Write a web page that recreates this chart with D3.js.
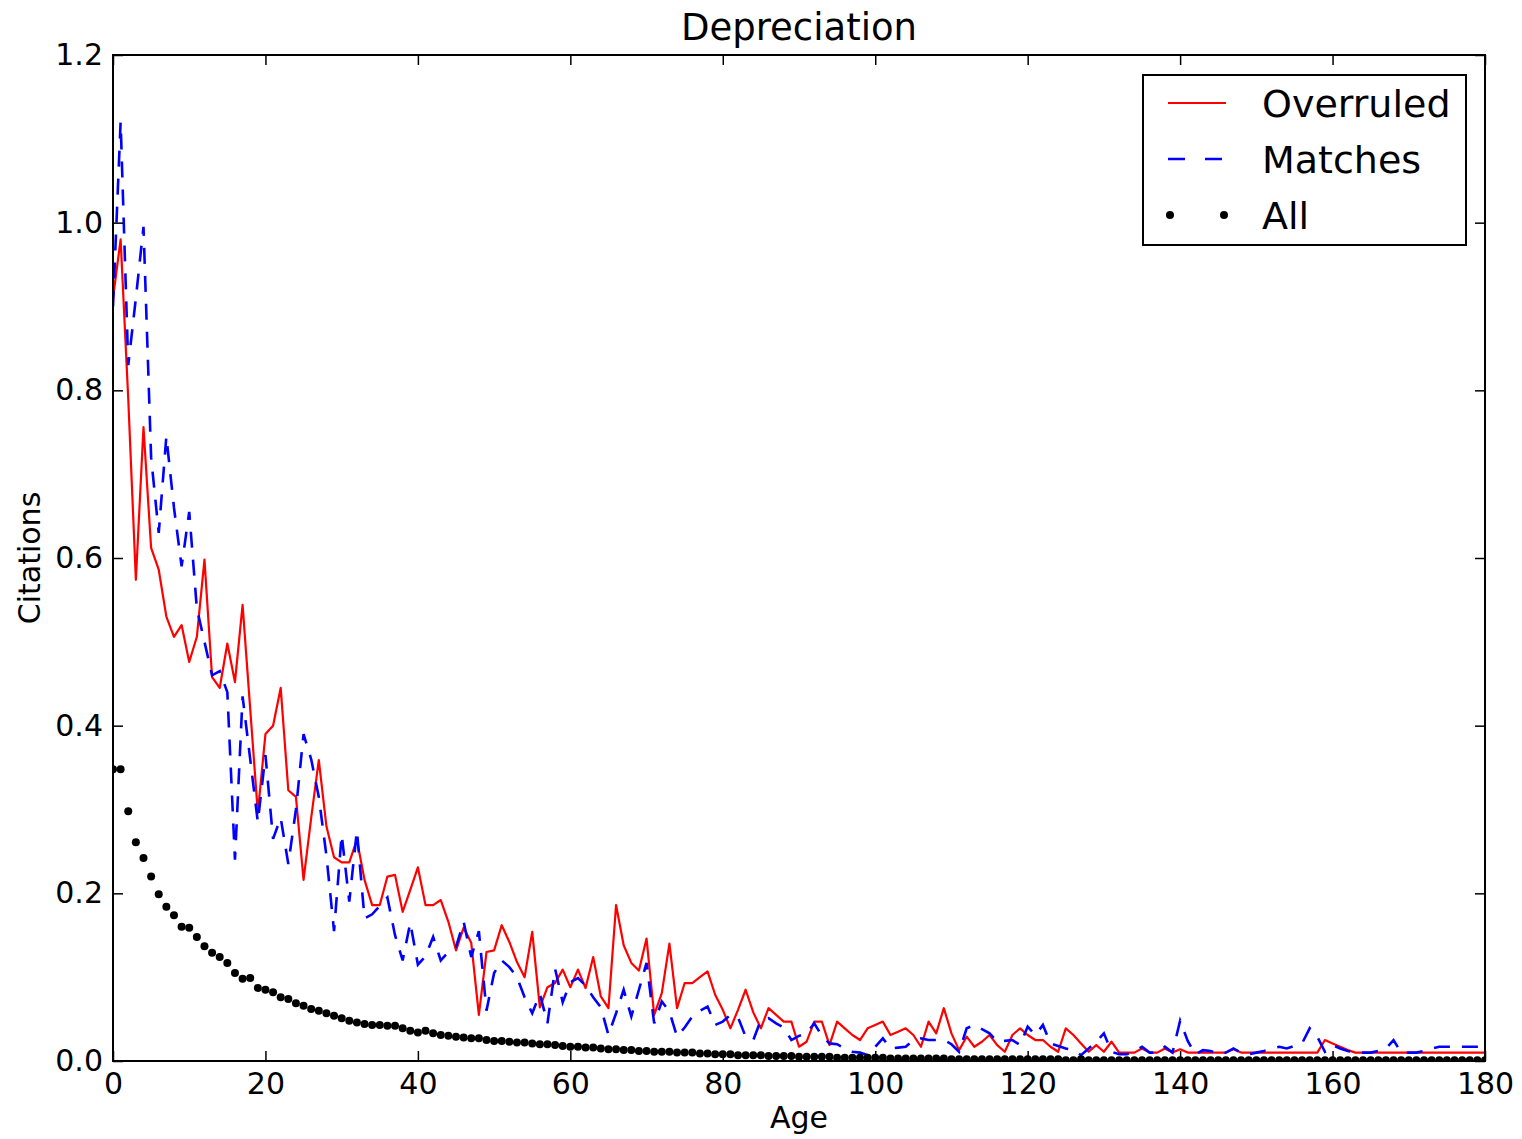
<!DOCTYPE html>
<html><head><meta charset="utf-8">
<script src="https://cdn.jsdelivr.net/npm/d3@7"></script>
<style>body{margin:0;background:#fff}</style>
</head><body>
<svg id="c" width="1522" height="1139"></svg>
<script>
const title = "Depreciation";
const xLabel = "Age";
const yLabel = "Citations";
const xTicks = [0, 20, 40, 60, 80, 100, 120, 140, 160, 180];
const yTicks = [0.0, 0.2, 0.4, 0.6, 0.8, 1.0, 1.2];
const seriesNames = ["Overruled", "Matches", "All"];

// values by age 0..180
const overruled = [
0.91,0.98,0.79,0.574,0.756,0.612,0.586,0.53,0.506,0.52,
0.476,0.506,0.598,0.458,0.445,0.498,0.452,0.544,0.42,0.296,
0.39,0.40,0.445,0.323,0.315,0.216,0.29,0.359,0.28,0.243,
0.237,0.237,0.264,0.216,0.186,0.186,0.22,0.222,0.178,0.204,
0.231,0.186,0.186,0.192,0.166,0.132,0.159,0.141,0.055,0.13,
0.132,0.162,0.142,0.118,0.10,0.154,0.064,0.088,0.093,0.109,
0.088,0.109,0.087,0.124,0.077,0.063,0.186,0.138,0.117,0.108,
0.146,0.055,0.081,0.14,0.063,0.093,0.093,0.10,0.107,0.079,
0.061,0.039,0.061,0.085,0.058,0.039,0.063,0.055,0.047,0.047,
0.017,0.023,0.047,0.047,0.019,0.047,0.039,0.031,0.025,0.039,
0.043,0.047,0.031,0.035,0.039,0.031,0.017,0.047,0.033,0.063,
0.033,0.013,0.029,0.017,0.023,0.031,0.019,0.011,0.031,0.039,
0.031,0.025,0.025,0.017,0.011,0.039,0.031,0.021,0.011,0.019,
0.011,0.023,0.01,0.01,0.01,0.015,0.01,0.01,0.015,0.01,
0.014,0.01,0.01,0.01,0.01,0.01,0.01,0.014,0.01,0.01,
0.01,0.01,0.01,0.01,0.01,0.01,0.01,0.01,0.01,0.025,
0.021,0.017,0.013,0.01,0.01,0.01,0.01,0.01,0.01,0.01,
0.01,0.01,0.01,0.01,0.01,0.01,0.01,0.01,0.01,0.01,
0.01
];

const matches = [
0.90,1.12,0.83,0.91,0.995,0.72,0.63,0.745,0.66,0.59,
0.655,0.54,0.50,0.46,0.465,0.44,0.24,0.435,0.36,0.285,
0.365,0.265,0.29,0.235,0.30,0.39,0.36,0.315,0.245,0.155,
0.27,0.19,0.275,0.17,0.175,0.185,0.195,0.15,0.12,0.165,
0.115,0.125,0.148,0.12,0.13,0.136,0.166,0.124,0.155,0.06,
0.105,0.12,0.112,0.10,0.076,0.057,0.08,0.045,0.11,0.07,
0.094,0.099,0.09,0.076,0.064,0.031,0.057,0.085,0.053,0.085,
0.117,0.045,0.071,0.059,0.029,0.04,0.053,0.06,0.065,0.043,
0.047,0.055,0.052,0.029,0.025,0.049,0.051,0.045,0.04,0.025,
0.03,0.033,0.045,0.03,0.021,0.02,0.015,0.011,0.01,0.007,
0.017,0.027,0.015,0.016,0.017,0.025,0.027,0.025,0.025,0.025,
0.02,0.011,0.039,0.043,0.038,0.033,0.023,0.024,0.025,0.019,
0.041,0.031,0.043,0.021,0.018,0.015,0.013,0.007,0.015,0.023,
0.033,0.011,0.008,0.008,0.012,0.017,0.01,0.01,0.017,0.01,
0.048,0.024,0.008,0.013,0.012,0.008,0.01,0.015,0.01,0.008,
0.01,0.012,0.015,0.017,0.015,0.018,0.021,0.039,0.029,0.011,
0.019,0.015,0.012,0.01,0.01,0.01,0.012,0.015,0.025,0.01,
0.01,0.01,0.012,0.015,0.017,0.017,0.017,0.017,0.017,0.017,
0.017
];

const all = [
0.348,0.348,0.298,0.261,0.242,0.22,0.199,0.184,0.174,0.16,
0.159,0.148,0.137,0.129,0.124,0.117,0.105,0.098,0.099,0.087,
0.085,0.082,0.076,0.074,0.069,0.066,0.062,0.060,0.057,0.054,
0.051,0.048,0.046,0.044,0.043,0.043,0.042,0.042,0.039,0.036,
0.034,0.036,0.033,0.031,0.030,0.029,0.028,0.027,0.027,0.025,
0.024,0.024,0.023,0.022,0.022,0.021,0.020,0.020,0.019,0.018,
0.017,0.017,0.016,0.016,0.015,0.014,0.014,0.013,0.013,0.012,
0.012,0.011,0.011,0.011,0.010,0.010,0.010,0.009,0.009,0.008,
0.008,0.008,0.007,0.007,0.007,0.007,0.006,0.006,0.006,0.006,
0.005,0.005,0.005,0.005,0.005,0.004,0.004,0.004,0.004,0.004,
0.004,0.004,0.003,0.003,0.003,0.003,0.003,0.003,0.003,0.003,
0.002,0.002,0.002,0.002,0.002,0.002,0.002,0.002,0.002,0.002,
0.002,0.002,0.002,0.002,0.002,0.001,0.001,0.002,0.001,0.001,
0.001,0.001,0.001,0.001,0.001,0.001,0.001,0.001,0.001,0.001,
0.001,0.001,0.001,0.001,0.001,0.001,0.001,0.001,0.001,0.001,
0.001,0.001,0.001,0.001,0.001,0.001,0.001,0.001,0.001,0.001,
0.001,0.001,0.001,0.001,0.001,0.001,0.001,0.001,0.001,0.001,
0.001,0.001,0.001,0.001,0.001,0.001,0.001,0.001,0.001,0.001,
0.001
];

const FONT = "DejaVu Sans";
const svg = d3.select("#c");
const L = 113, R = 1485, T = 55, B = 1061;
const x = d3.scaleLinear().domain([0, 180]).range([L, R]);
const y = d3.scaleLinear().domain([0, 1.2]).range([B, T]);

svg.append("rect").attr("width",1522).attr("height",1139).attr("fill","#fff");

svg.append("defs").append("clipPath").attr("id","clip")
  .append("rect").attr("x",L).attr("y",T).attr("width",R-L).attr("height",B-T);

const plot = svg.append("g").attr("clip-path","url(#clip)");

const line = (arr) => d3.line().x((d,i)=>x(i)).y(d=>y(d))(arr);

plot.append("path").attr("d", line(overruled)).attr("fill","none")
  .attr("stroke","#ff0000").attr("stroke-width",2.2).attr("stroke-linejoin","round");
plot.append("path").attr("d", line(matches)).attr("fill","none")
  .attr("stroke","#0000ff").attr("stroke-width",2.6).attr("stroke-dasharray","16,12");
plot.selectAll("circle.all").data(all).enter().append("circle")
  .attr("class","all").attr("cx",(d,i)=>x(i)).attr("cy",d=>y(d)).attr("r",4).attr("fill","#000");

// axes with inward ticks
const fmt = d3.format(".1f");
const gx = svg.append("g").attr("transform",`translate(0,${B})`)
  .call(d3.axisBottom(x).tickValues(xTicks).tickSize(-10).tickPadding(12).tickFormat(d3.format("d")));
const gxt = svg.append("g").attr("transform",`translate(0,${T})`)
  .call(d3.axisTop(x).tickValues(xTicks).tickSize(-10).tickFormat(""));
const gy = svg.append("g").attr("transform",`translate(${L},0)`)
  .call(d3.axisLeft(y).tickValues(yTicks).tickSize(-10).tickPadding(10).tickFormat(fmt));
const gyr = svg.append("g").attr("transform",`translate(${R},0)`)
  .call(d3.axisRight(y).tickValues(yTicks).tickSize(-10).tickFormat(""));
[gx,gxt,gy,gyr].forEach(g=>{
  g.select(".domain").remove();
  g.selectAll(".tick line").attr("stroke","#000").attr("stroke-width",1.5);
  g.selectAll("text").attr("font-family",FONT).attr("font-size",30).attr("fill","#000");
});

svg.append("rect").attr("x",L).attr("y",T).attr("width",R-L).attr("height",B-T)
  .attr("fill","none").attr("stroke","#000").attr("stroke-width",2);

svg.append("text").attr("x",(L+R)/2).attr("y",40).attr("text-anchor","middle")
  .attr("font-family",FONT).attr("font-size",37).text(title);
svg.append("text").attr("x",(L+R)/2).attr("y",1128).attr("text-anchor","middle")
  .attr("font-family",FONT).attr("font-size",30).text(xLabel);
svg.append("text").attr("transform",`translate(40,${(T+B)/2}) rotate(-90)`).attr("text-anchor","middle")
  .attr("font-family",FONT).attr("font-size",30).text(yLabel);

// legend
const lg = svg.append("g");
lg.append("rect").attr("x",1143).attr("y",75).attr("width",323).attr("height",170)
  .attr("fill","#fff").attr("stroke","#000").attr("stroke-width",2);
const rows = [103, 159, 215];
lg.append("line").attr("x1",1168).attr("x2",1226).attr("y1",rows[0]).attr("y2",rows[0])
  .attr("stroke","#ff0000").attr("stroke-width",2.2);
lg.append("line").attr("x1",1168).attr("x2",1226).attr("y1",rows[1]).attr("y2",rows[1])
  .attr("stroke","#0000ff").attr("stroke-width",2.6).attr("stroke-dasharray","17,20");
[1170,1224].forEach(cx=>lg.append("circle").attr("cx",cx).attr("cy",rows[2]).attr("r",4).attr("fill","#000"));
seriesNames.forEach((n,i)=>{
  lg.append("text").attr("x",1262).attr("y",rows[i]+14).attr("font-family",FONT)
    .attr("font-size",38).attr("fill","#000").text(n);
});
</script>
</body></html>
